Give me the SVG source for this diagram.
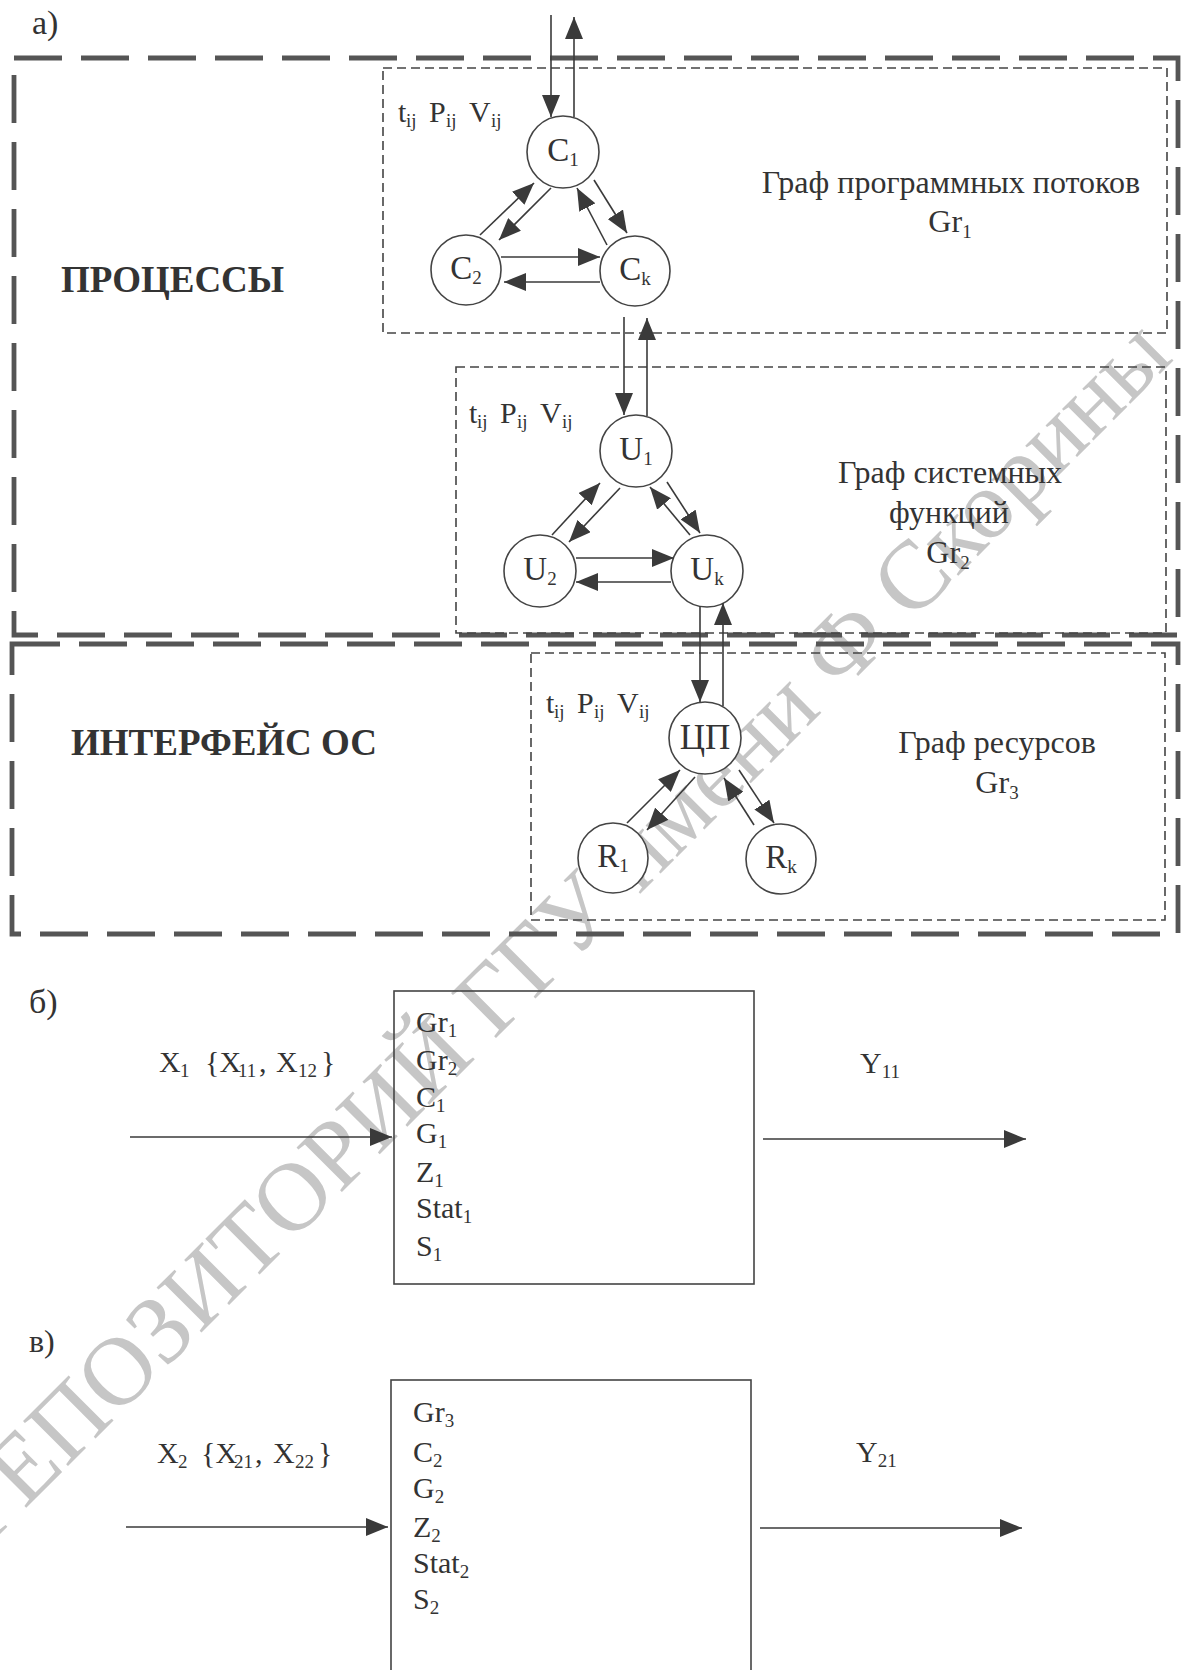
<svg xmlns="http://www.w3.org/2000/svg" width="1188" height="1670" viewBox="0 0 1188 1670">
<defs>
<marker id="ah" markerUnits="userSpaceOnUse" markerWidth="22" markerHeight="18" refX="22" refY="9" orient="auto">
<path d="M0,0 L22,9 L0,18 z" fill="#3a3a3a"/>
</marker>
<style>
text{font-family:"Liberation Serif","Times New Roman",serif;fill:#333}
.lbl{font-size:30px}
.pl{font-size:34px}
.nl{font-size:33px}
.sub{font-size:19px}
.hd{font-size:32px}
.bold{font-size:37px;font-weight:bold}
.wm{font-size:97px;fill:#c6c6c6}
.outer{fill:none;stroke:#555;stroke-width:4.8;stroke-dasharray:48 19}
.inner{fill:none;stroke:#444;stroke-width:1.6;stroke-dasharray:9 5}
.node circle{fill:#fff;stroke:#444;stroke-width:1.6}
.box{fill:none;stroke:#444;stroke-width:1.6}
.cn line{stroke:#3a3a3a;stroke-width:1.6;marker-end:url(#ah)}
</style>
</defs>
<rect width="1188" height="1670" fill="#fff"/>

<g id="watermark">
<text class="wm" transform="translate(-14,1548) rotate(-45)">РЕПОЗИТОРИЙ ГГУ имени Ф Скорины</text>
</g>

<g id="frames">
<rect class="outer" x="14" y="58" width="1164" height="577"/>
<rect class="outer" x="12" y="644" width="1166" height="290"/>
<rect class="inner" x="383" y="68" width="784" height="265"/>
<rect class="inner" x="456" y="367" width="710" height="266"/>
<rect class="inner" x="531" y="653" width="634" height="267"/>
</g>

<g id="labels">
<text class="pl" x="32" y="34">а)</text>
<text class="bold" x="61" y="292">ПРОЦЕССЫ</text>
<text class="bold" x="71" y="755">ИНТЕРФЕЙС ОС</text>
<text class="lbl" y="122"><tspan x="398">t</tspan><tspan class="sub" x="406" dy="5">ij</tspan><tspan x="429" dy="-5">P</tspan><tspan class="sub" x="446" dy="5">ij</tspan><tspan x="469" dy="-5">V</tspan><tspan class="sub" x="491" dy="5">ij</tspan></text>
<text class="lbl" y="423"><tspan x="469">t</tspan><tspan class="sub" x="477" dy="5">ij</tspan><tspan x="500" dy="-5">P</tspan><tspan class="sub" x="517" dy="5">ij</tspan><tspan x="540" dy="-5">V</tspan><tspan class="sub" x="562" dy="5">ij</tspan></text>
<text class="lbl" y="713"><tspan x="546">t</tspan><tspan class="sub" x="554" dy="5">ij</tspan><tspan x="577" dy="-5">P</tspan><tspan class="sub" x="594" dy="5">ij</tspan><tspan x="617" dy="-5">V</tspan><tspan class="sub" x="639" dy="5">ij</tspan></text>
<text class="hd" x="951" y="193" text-anchor="middle">Граф программных потоков</text>
<text class="hd" x="950" y="232" text-anchor="middle">Gr<tspan class="sub" dy="6">1</tspan></text>
<text class="hd" x="950" y="483" text-anchor="middle">Граф системных</text>
<text class="hd" x="949" y="523" text-anchor="middle">функций</text>
<text class="hd" x="948" y="563" text-anchor="middle">Gr<tspan class="sub" dy="6">2</tspan></text>
<text class="hd" x="997" y="753" text-anchor="middle">Граф ресурсов</text>
<text class="hd" x="997" y="793" text-anchor="middle">Gr<tspan class="sub" dy="6">3</tspan></text>
<text class="pl" x="29" y="1013">б)</text>
<text class="lbl" x="29" y="1352" style="font-size:32px">в)</text>
<text class="lbl" y="1072"><tspan x="159">X</tspan><tspan class="sub" x="180" dy="5">1</tspan><tspan x="205" dy="-5">{X</tspan><tspan class="sub" x="238" dy="5">11</tspan><tspan x="259" dy="-5">,</tspan><tspan x="276">X</tspan><tspan class="sub" x="298" dy="5">12</tspan><tspan x="321" dy="-5">}</tspan></text>
<text class="lbl" y="1463"><tspan x="157">X</tspan><tspan class="sub" x="178" dy="5">2</tspan><tspan x="201" dy="-5">{X</tspan><tspan class="sub" x="234" dy="5">21</tspan><tspan x="255" dy="-5">,</tspan><tspan x="273">X</tspan><tspan class="sub" x="295" dy="5">22</tspan><tspan x="318" dy="-5">}</tspan></text>
<text class="lbl" x="860" y="1073">Y<tspan class="sub" dy="5">11</tspan></text>
<text class="lbl" x="856" y="1462">Y<tspan class="sub" dy="5">21</tspan></text>
</g>

<g id="node-C1" class="node"><circle cx="563" cy="152" r="36"/><text class="nl" x="563" y="161" text-anchor="middle">C<tspan class="sub" dy="5">1</tspan></text></g>
<g id="node-C2" class="node"><circle cx="466" cy="270" r="35"/><text class="nl" x="466" y="279" text-anchor="middle">C<tspan class="sub" dy="5">2</tspan></text></g>
<g id="node-Ck" class="node"><circle cx="635" cy="271" r="35"/><text class="nl" x="635" y="280" text-anchor="middle">C<tspan class="sub" dy="5">k</tspan></text></g>
<g id="node-U1" class="node"><circle cx="636" cy="451" r="36"/><text class="nl" x="636" y="460" text-anchor="middle">U<tspan class="sub" dy="5">1</tspan></text></g>
<g id="node-U2" class="node"><circle cx="540" cy="571" r="36"/><text class="nl" x="540" y="580" text-anchor="middle">U<tspan class="sub" dy="5">2</tspan></text></g>
<g id="node-Uk" class="node"><circle cx="707" cy="571" r="36"/><text class="nl" x="707" y="580" text-anchor="middle">U<tspan class="sub" dy="5">k</tspan></text></g>
<g id="node-CP" class="node"><circle cx="705" cy="738" r="36"/><text class="nl" x="705" y="749" text-anchor="middle" style="font-size:35px">ЦП</text></g>
<g id="node-R1" class="node"><circle cx="613" cy="858" r="35"/><text class="nl" x="613" y="867" text-anchor="middle">R<tspan class="sub" dy="5">1</tspan></text></g>
<g id="node-Rk" class="node"><circle cx="781" cy="859" r="35"/><text class="nl" x="781" y="868" text-anchor="middle">R<tspan class="sub" dy="5">k</tspan></text></g>

<g id="node-box1">
<rect class="box" x="394" y="991" width="360" height="293"/>
<text class="lbl" x="416" y="1032">Gr<tspan class="sub" dy="5">1</tspan></text>
<text class="lbl" x="416" y="1070">Gr<tspan class="sub" dy="5">2</tspan></text>
<text class="lbl" x="416" y="1107">C<tspan class="sub" dy="5">1</tspan></text>
<text class="lbl" x="416" y="1143">G<tspan class="sub" dy="5">1</tspan></text>
<text class="lbl" x="416" y="1182">Z<tspan class="sub" dy="5">1</tspan></text>
<text class="lbl" x="416" y="1218">Stat<tspan class="sub" dy="5">1</tspan></text>
<text class="lbl" x="416" y="1256">S<tspan class="sub" dy="5">1</tspan></text>
</g>
<g id="node-box2">
<rect class="box" x="391" y="1380" width="360" height="310"/>
<text class="lbl" x="413" y="1422">Gr<tspan class="sub" dy="5">3</tspan></text>
<text class="lbl" x="413" y="1462">C<tspan class="sub" dy="5">2</tspan></text>
<text class="lbl" x="413" y="1498">G<tspan class="sub" dy="5">2</tspan></text>
<text class="lbl" x="413" y="1537">Z<tspan class="sub" dy="5">2</tspan></text>
<text class="lbl" x="413" y="1573">Stat<tspan class="sub" dy="5">2</tspan></text>
<text class="lbl" x="413" y="1609">S<tspan class="sub" dy="5">2</tspan></text>
</g>

<g id="connectors" class="cn">
<line x1="551" y1="15" x2="551" y2="117"/>
<line x1="574" y1="117" x2="574" y2="17"/>
<line x1="480" y1="235" x2="534" y2="183"/>
<line x1="551" y1="188" x2="499" y2="240"/>
<line x1="594" y1="180" x2="627" y2="233"/>
<line x1="607" y1="245" x2="577" y2="188"/>
<line x1="501" y1="257" x2="600" y2="257"/>
<line x1="600" y1="282" x2="504" y2="282"/>
<line x1="624" y1="317" x2="624" y2="415"/>
<line x1="647" y1="416" x2="647" y2="318"/>
<line x1="552" y1="535" x2="600" y2="483"/>
<line x1="620" y1="488" x2="569" y2="542"/>
<line x1="667" y1="482" x2="700" y2="533"/>
<line x1="690" y1="535" x2="650" y2="487"/>
<line x1="576" y1="558" x2="674" y2="558"/>
<line x1="671" y1="582" x2="576" y2="582"/>
<line x1="700" y1="606" x2="700" y2="702"/>
<line x1="723" y1="706" x2="723" y2="603"/>
<line x1="627" y1="823" x2="680" y2="770"/>
<line x1="695" y1="777" x2="647" y2="830"/>
<line x1="739" y1="770" x2="774" y2="823"/>
<line x1="754" y1="825" x2="724" y2="778"/>
<line x1="130" y1="1137" x2="392" y2="1137"/>
<line x1="763" y1="1139" x2="1026" y2="1139"/>
<line x1="126" y1="1527" x2="388" y2="1527"/>
<line x1="760" y1="1528" x2="1022" y2="1528"/>
</g>
</svg>
